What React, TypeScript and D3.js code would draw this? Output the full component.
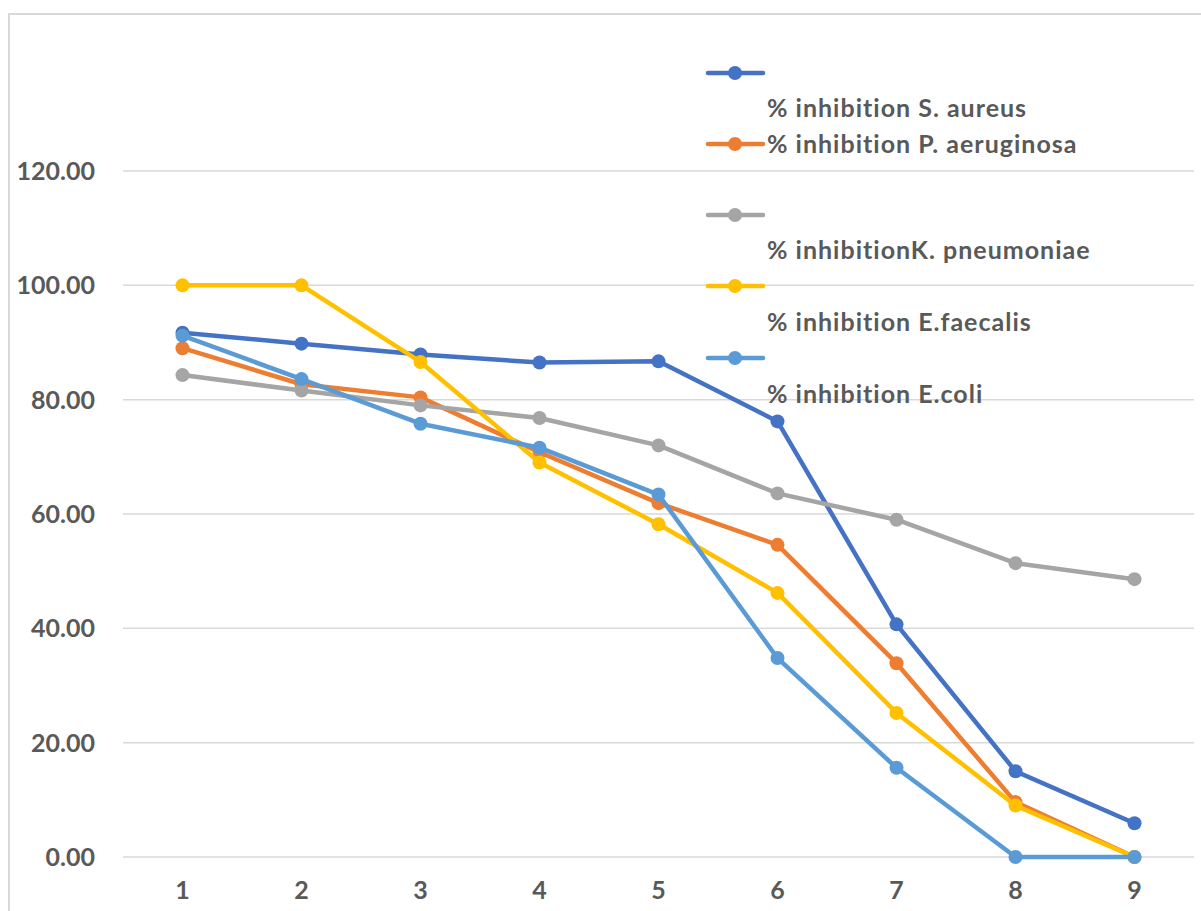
import React from "react";
import * as d3 from "d3";

const categories = ["1", "2", "3", "4", "5", "6", "7", "8", "9"];
const yTicks = [0, 20, 40, 60, 80, 100, 120];

const sAureus = [91.7, 89.8, 87.9, 86.5, 86.7, 76.2, 40.7, 15.0, 5.9];
const pAeruginosa = [89.0, 82.7, 80.4, 70.8, 61.9, 54.6, 33.9, 9.6, 0];
const kPneumoniae = [84.3, 81.6, 79.0, 76.8, 72.0, 63.6, 59.0, 51.4, 48.6];
const eFaecalis = [100, 100, 86.6, 69.0, 58.2, 46.2, 25.2, 9.0, 0];
const eColi = [91.2, 83.6, 75.8, 71.6, 63.4, 34.8, 15.6, 0, 0];

const seriesNames = [
  "% inhibition S. aureus",
  "% inhibition P. aeruginosa",
  "% inhibitionK. pneumoniae",
  "% inhibition E.faecalis",
  "% inhibition E.coli",
];
const seriesValues = [sAureus, pAeruginosa, kPneumoniae, eFaecalis, eColi];
const seriesColors = ["#4472C4", "#ED7D31", "#A5A5A5", "#FFC000", "#5B9BD5"];
// legend: marker y and text y
const legendMarkerY = [73, 144, 215, 286, 358];
const legendTextY = [108, 144, 250, 322, 394];

const FONT = "Lato, 'Open Sans', sans-serif";

export default function App() {
  const W = 1201;
  const H = 911;
  const left = 123;
  const right = 1194;
  const x = d3.scaleBand().domain(categories).range([left, right]);
  const y = d3.scaleLinear().domain([0, 120]).range([857, 171]);
  const line = d3
    .line<number>()
    .x((_, i) => (x(categories[i]) as number) + x.bandwidth() / 2)
    .y((d) => y(d));

  const textStyle = { fontVariantLigatures: "none" } as React.CSSProperties;

  return (
    <svg
      width={W}
      height={H}
      style={{ position: "absolute", left: 0, top: 0, background: "#fff" }}
    >
      <rect x={9} y={14} width={1300} height={1000} fill="#fff" stroke="#d9d9d9" strokeWidth={2} />
      {yTicks.map((t) => (
        <g key={t}>
          <line x1={left} x2={right} y1={y(t)} y2={y(t)} stroke="#d9d9d9" strokeWidth={1.5} />
          <text
            x={95}
            y={y(t)}
            dy="0.36em"
            textAnchor="end"
            fontFamily={FONT}
            fontWeight="bold"
            fontSize={25}
            fill="#595959"
            style={textStyle}
          >
            {t.toFixed(2)}
          </text>
        </g>
      ))}
      {categories.map((c) => (
        <text
          key={c}
          x={(x(c) as number) + x.bandwidth() / 2}
          y={890}
          dy="0.36em"
          textAnchor="middle"
          fontFamily={FONT}
          fontWeight="bold"
          fontSize={25}
          fill="#595959"
          style={textStyle}
        >
          {c}
        </text>
      ))}
      {seriesValues.map((vals, si) => (
        <g key={si}>
          <path
            d={line(vals) as string}
            fill="none"
            stroke={seriesColors[si]}
            strokeWidth={4.5}
            strokeLinejoin="round"
          />
          {vals.map((v, i) => (
            <circle
              key={i}
              cx={(x(categories[i]) as number) + x.bandwidth() / 2}
              cy={y(v)}
              r={7}
              fill={seriesColors[si]}
            />
          ))}
        </g>
      ))}
      {seriesNames.map((name, si) => (
        <g key={name}>
          <line
            x1={708}
            x2={763}
            y1={legendMarkerY[si]}
            y2={legendMarkerY[si]}
            stroke={seriesColors[si]}
            strokeWidth={4.5}
            strokeLinecap="round"
          />
          <circle cx={735} cy={legendMarkerY[si]} r={7} fill={seriesColors[si]} />
          <text
            x={767}
            y={legendTextY[si]}
            dy="0.36em"
            fontFamily={FONT}
            fontWeight="bold"
            fontSize={25}
            letterSpacing={1}
            fill="#595959"
            style={textStyle}
          >
            {name}
          </text>
        </g>
      ))}
    </svg>
  );
}
